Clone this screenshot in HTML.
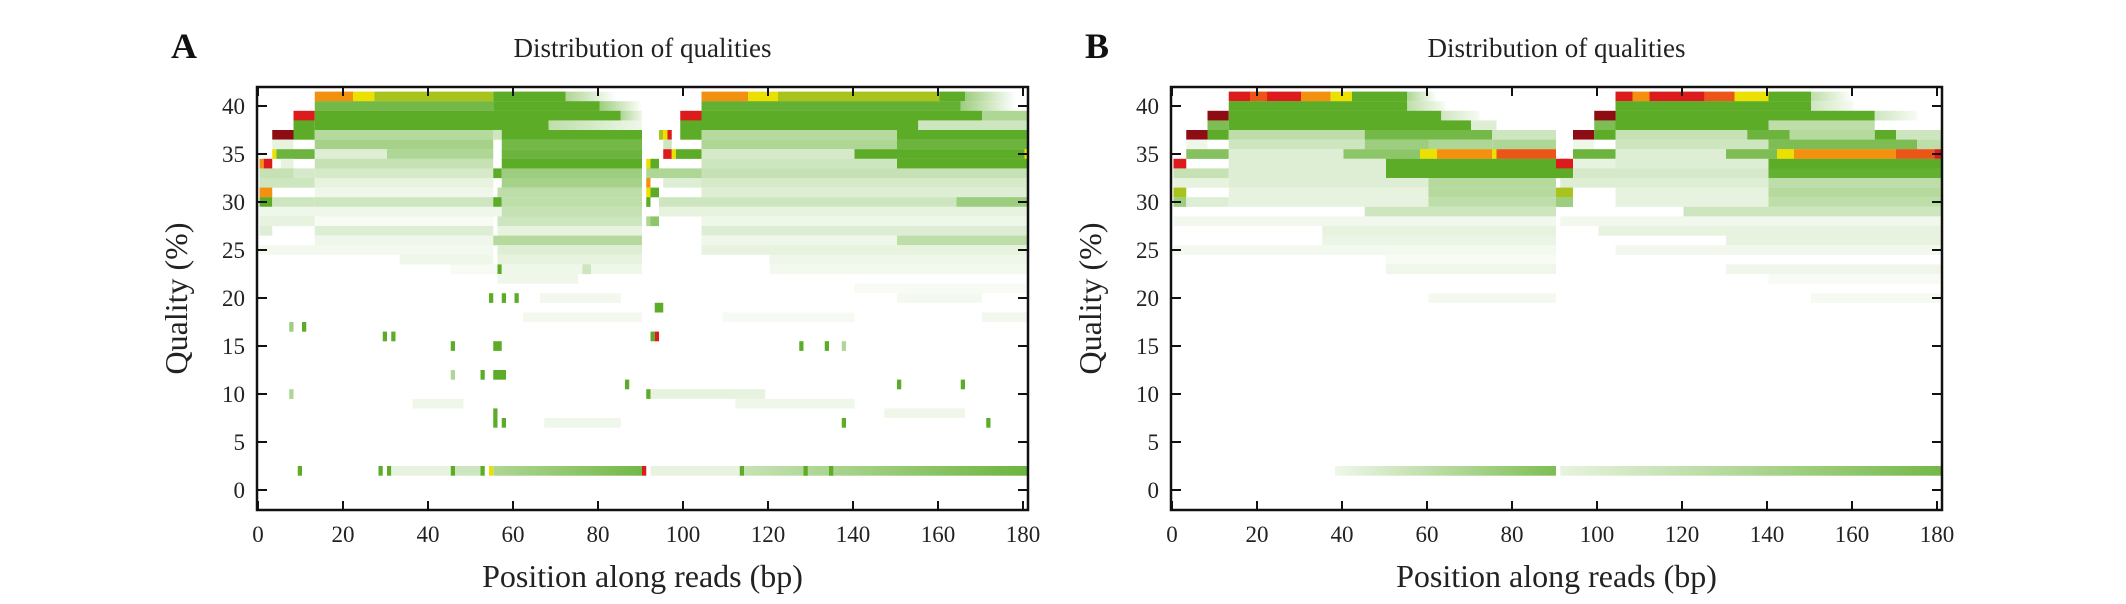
<!DOCTYPE html>
<html><head><meta charset="utf-8"><style>
html,body{margin:0;padding:0;background:#fff;}
svg{display:block;font-family:"Liberation Serif",serif;}
</style></head><body>
<svg id="fig" width="2126" height="604" viewBox="0 0 2126 604" xmlns="http://www.w3.org/2000/svg">
<defs id="defs"></defs>
<g id="panelA"></g>
<g id="panelB"></g>
</svg>
<script>
// tick labels
const xTicks = [0,20,40,60,80,100,120,140,160,180];
const yTicks = [0,5,10,15,20,25,30,35,40];
// colour keys: R red, D dark red, O orange, Y yellow, L yellow-green, Q orange-red
// segments: [quality, startPos, endPos, intensity or colour key, optional endIntensity]
const segA = [
[41,13,22,'O'],[41,22,27,'Y'],[41,27,55,'L'],[41,55,72,1],[41,72,84,0.5,0],
[40,13,55,0.85],[40,55,80,1],[40,80,90,0.6,0],
[39,8,13,'R'],[39,13,85,1],[39,85,90,0.5,0.1],
[38,8,13,1],[38,13,68,1],[38,68,90,0.4,0.1],
[37,3,8,'D'],[37,8,13,1],[37,13,55,0.45],[37,55,57,0.3],[37,57,90,1],
[36,3,8,0.15],[36,13,55,0.55],[36,57,90,0.85],
[35,3,4,'Y'],[35,4,13,0.9],[35,13,30,0.2],[35,30,55,0.5],[35,57,90,0.9],
[34,0,1,'O'],[34,1,3,'R'],[34,5,8,0.15],[34,13,55,0.35],[34,57,90,1],
[33,0,8,0.35],[33,8,13,0.25],[33,13,55,0.25],[33,55,57,1],[33,57,90,0.6],
[32,0,13,0.3],[32,13,55,0.15],[32,57,90,0.55],
[31,0,3,'O'],[31,13,55,0.1],[31,56,90,0.4],
[30,0,3,1],[30,3,13,0.3],[30,13,55,0.3],[30,55,57,1],[30,57,90,0.4],
[29,0,57,0.1],[29,57,90,0.35],
[28,0,13,0.15],[28,13,55,0.05],[28,56,90,0.3],
[27,0,3,0.2],[27,13,55,0.2],[27,56,90,0.15],
[26,13,55,0.1],[26,55,90,0.45],
[25,0,55,0.07],[25,56,90,0.2],
[24,33,55,0.1],[24,56,90,0.15],
[23,45,56,0.05],[23,56,57,1],[23,57,90,0.1],[23,76,78,0.3],
[22,56,75,0.1],
[20,54,55,1],[20,57,58,1],[20,60,61,1],[20,66,85,0.08],
[19,93,95,1],[18,62,90,0.07],[17,7,8,0.6],[17,10,11,1],
[16,29,30,1],[16,31,32,1],[16,92,93,1],[16,93,94,'R'],
[15,45,46,1],[15,55,57,1],[15,127,128,1],[15,133,134,1],[15,137,138,0.5],
[12,45,46,0.5],[12,52,53,1],[12,55,58,1],[11,86,87,1],[11,150,151,1],[11,165,166,1],
[10,7,8,0.5],[10,91,92,1],[10,92,119,0.15],
[9,36,48,0.1],[9,112,140,0.1],[8,55,56,1],[8,147,166,0.1],
[7,55,56,1],[7,57,58,1],[7,67,85,0.1],[7,137,138,1],[7,171,172,1],
[2,9,10,1],[2,28,29,1],[2,30,31,1],[2,31,45,0.15],[2,45,46,1],[2,46,52,0.3],[2,52,53,1],[2,54,55,'Y'],[2,55,90,0.5,0.85],[2,90,91,'R'],[2,92,113,0.15],[2,113,114,1],[2,114,181,0.35,0.9],[2,128,129,1],[2,134,135,1],
// second read
[41,104,115,'O'],[41,115,122,'Y'],[41,122,160,'L'],[41,160,166,1],[41,166,178,0.6,0],
[40,104,165,0.95],[40,165,178,0.6,0],
[39,99,104,'R'],[39,104,170,1],[39,170,181,0.5],
[38,99,104,1],[38,104,155,1],[38,155,181,0.3],
[37,94,95,'L'],[37,95,96,'Y'],[37,96,97,'R'],[37,99,104,1],[37,104,150,0.45],[37,150,181,1],
[36,95,97,0.3],[36,104,150,0.5],[36,150,181,0.9],
[35,95,97,'R'],[35,97,98,'Y'],[35,98,104,1],[35,104,140,0.25],[35,140,180,1],[35,180,181,'Y'],
[34,91,92,'Y'],[34,92,94,1],[34,104,150,0.3],[34,150,181,1],
[33,91,104,0.5],[33,104,181,0.35],
[32,91,92,'O'],[32,95,104,0.2],[32,104,181,0.25],
[31,91,92,'Y'],[31,92,94,1],[31,104,181,0.2],
[30,91,92,1],[30,94,104,0.3],[30,104,181,0.3],[30,164,181,0.6],
[29,94,181,0.15],[28,91,92,0.5],[28,92,94,0.7],[28,104,181,0.1],
[27,104,181,0.2],[26,104,150,0.1],[26,150,181,0.4],
[25,104,181,0.15],[24,120,181,0.1],[23,120,181,0.07],[21,140,181,0.05],[20,150,170,0.07],
[18,109,140,0.06],[18,170,181,0.08]
];
const segB = [
[41,13,18,'R'],[41,18,22,'Q'],[41,22,30,'R'],[41,30,37,'O'],[41,37,42,'Y'],[41,42,55,1],[41,55,62,0.5,0],
[40,13,55,1],[40,55,64,0.4,0.05],
[39,8,13,'D'],[39,13,63,1],[39,63,72,0.3,0.05],
[38,8,13,0.8],[38,13,70,1],[38,70,76,0.2],
[37,3,8,'D'],[37,8,13,1],[37,13,45,0.4],[37,45,75,0.85],[37,75,90,0.3],
[36,3,8,0.1],[36,13,45,0.3],[36,45,60,0.6],[36,60,75,0.5],[36,75,90,0.5],
[35,3,13,0.75],[35,13,40,0.2],[35,40,58,0.7],[35,58,62,'Y'],[35,62,75,'O'],[35,75,76,'Y'],[35,76,90,'Q'],
[34,0,3,'R'],[34,13,50,0.2],[34,50,90,1],[34,90,93,'R'],
[33,0,13,0.35],[33,13,50,0.2],[33,50,93,1],
[32,0,13,0.15],[32,13,60,0.2],[32,60,90,0.45],
[31,0,3,'L'],[31,13,60,0.15],[31,60,90,0.45],[31,90,93,'L'],
[30,0,3,0.6],[30,3,13,0.2],[30,13,60,0.15],[30,60,90,0.4],[30,90,93,0.6],
[29,45,90,0.3],[28,0,90,0.08],[27,35,90,0.15],[26,35,90,0.12],[25,0,90,0.07],
[24,50,90,0.05],[23,50,90,0.1],[20,60,90,0.07],
[2,38,90,0.1,0.8],
// second read
[41,104,108,'R'],[41,108,112,'O'],[41,112,125,'R'],[41,125,132,'Q'],[41,132,140,'Y'],[41,140,150,1],[41,150,160,0.4,0],
[40,104,150,1],[40,150,160,0.3,0.05],
[39,99,104,'D'],[39,104,165,1],[39,165,175,0.3,0.05],
[38,99,104,0.8],[38,104,140,1],[38,140,165,0.4],
[37,94,99,'D'],[37,99,104,1],[37,104,135,0.35],[37,135,145,0.9],[37,145,165,0.45],[37,165,170,1],[37,170,181,0.3],
[36,94,99,0.1],[36,104,140,0.3],[36,140,175,0.8],[36,175,181,0.4],
[35,94,104,0.9],[35,104,130,0.2],[35,130,142,0.8],[35,142,146,'Y'],[35,146,150,'O'],[35,150,170,'O'],[35,170,179,'Q'],[35,179,181,'R'],
[34,91,94,'R'],[34,94,104,0.15],[34,104,140,0.2],[34,140,181,1],
[33,91,94,1],[33,94,104,0.25],[33,104,140,0.25],[33,140,181,0.95],
[32,91,104,0.2],[32,104,140,0.2],[32,140,181,0.4],
[31,91,94,'L'],[31,104,140,0.15],[31,140,181,0.45],
[30,91,94,0.6],[30,104,140,0.15],[30,140,181,0.4],
[29,120,181,0.3],[28,91,181,0.08],[27,100,181,0.15],[26,130,181,0.15],[25,104,181,0.08],
[23,130,181,0.1],[22,140,181,0.05],[20,150,181,0.06],
[2,91,181,0.15,0.85]
];
const NS='http://www.w3.org/2000/svg';
const hot={R:'#dc1c1c',D:'#8e0c14',O:'#f39010',Y:'#ece000',L:'#a8c41c',Q:'#ec5518'};
function green(v){const r=Math.round(255-(255-92)*v),g=Math.round(255-(255-172)*v),b=Math.round(255-(255-40)*v);return `rgb(${r},${g},${b})`;}
function yPix(q){return 490-9.6*q;}
let gid=0;
function mk(tag,attrs,parent){const e=document.createElementNS(NS,tag);for(const k in attrs)e.setAttribute(k,attrs[k]);parent.appendChild(e);return e;}
function drawPanel(g,x0,segs,label){
  const xPix=p=>x0+4.25*p;
  const L=x0-1,R=x0+4.25*180+5,T=87,B=510;
  const defs=document.getElementById('defs');
  const cells=mk('g',{},g);
  
  
  for(const s of segs){
    const [q,a,b,v,v2]=s;
    let fill;
    if(typeof v==='string') fill=hot[v];
    else if(v2!==undefined){
      const id='gr'+(gid++);
      const lg=mk('linearGradient',{id:id,x1:0,x2:1,y1:0,y2:0},defs);
      mk('stop',{offset:0,'stop-color':green(v)},lg);
      mk('stop',{offset:1,'stop-color':green(v2)},lg);
      fill=`url(#${id})`;
    } else fill=green(v);
    const r=mk('rect',{x:xPix(a)+1.5,y:yPix(q+0.5),width:Math.max(2,xPix(b)-xPix(a)),height:9.7,fill:fill},cells);
    
    
  }
  const fr=mk('rect',{x:L,y:T,width:R-L,height:B-T,fill:'none',stroke:'#111','stroke-width':2.5},g);
  
  
  for(const t of xTicks){
    const x=xPix(t);
    mk('line',{x1:x,x2:x,y1:B,y2:B-9,stroke:'#111','stroke-width':2},g);
    mk('line',{x1:x,x2:x,y1:T,y2:T+9,stroke:'#111','stroke-width':2},g);
    const tx=mk('text',{x:x,y:542,'font-size':23,'text-anchor':'middle',fill:'#222'},g);
    tx.textContent=t;
    
    
  }
  for(const t of yTicks){
    const y=yPix(t);
    mk('line',{x1:L,x2:L+10,y1:y,y2:y,stroke:'#111','stroke-width':2},g);
    mk('line',{x1:R,x2:R-10,y1:y,y2:y,stroke:'#111','stroke-width':2},g);
    const tx=mk('text',{x:L-12,y:y+8,'font-size':23,'text-anchor':'end',fill:'#222'},g);
    tx.textContent=t;
    
    
  }
  const cx=(L+R)/2;
  const ti=mk('text',{x:cx,y:57,'font-size':27,'text-anchor':'middle',fill:'#222'},g);
  ti.textContent='Distribution of qualities';
  
  
  const xl=mk('text',{x:cx,y:587,'font-size':32,'text-anchor':'middle',fill:'#222','xml:space':'preserve'},g);
  xl.textContent='Position along reads  (bp)';
  
  
  const yl=mk('text',{x:0,y:0,'font-size':32,'text-anchor':'middle',fill:'#222',transform:`translate(${L-70},${(T+B)/2}) rotate(-90)`,'xml:space':'preserve'},g);
  yl.textContent='Quality  (%)';
  
  
  const pl=mk('text',{x:L-86,y:58,'font-size':36,'font-weight':'bold',fill:'#111'},g);
  pl.textContent=label;
  
  
}
drawPanel(document.getElementById('panelA'),258,segA,'A');
drawPanel(document.getElementById('panelB'),1172,segB,'B');
</script>
</body></html>
